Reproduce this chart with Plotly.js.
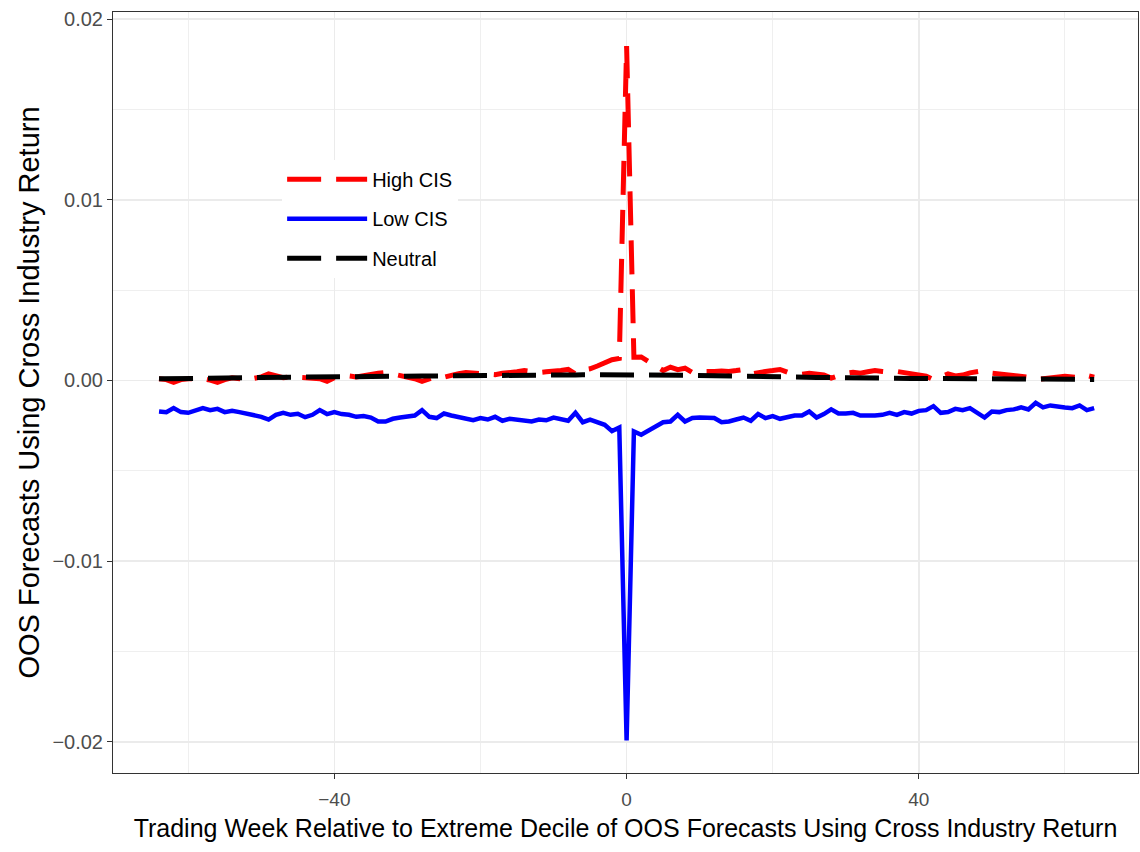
<!DOCTYPE html>
<html>
<head>
<meta charset="utf-8">
<script src="https://cdn.plot.ly/plotly-3.0.1.min.js"></script>
<style>
html,body{margin:0;padding:0;background:#fff;}
#chart{width:1140px;height:852px;}
</style>
</head>
<body>
<div id="chart"></div>
<script>
// Trading weeks relative to the event
const weeks = [-64,-63,-62,-61,-60,-59,-58,-57,-56,-55,-54,-53,-52,-51,-50,-49,-48,-47,-46,-45,-44,-43,-42,-41,-40,-39,-38,-37,-36,-35,-34,-33,-32,-31,-30,-29,-28,-27,-26,-25,-24,-23,-22,-21,-20,-19,-18,-17,-16,-15,-14,-13,-12,-11,-10,-9,-8,-7,-6,-5,-4,-3,-2,-1,0,1,2,3,4,5,6,7,8,9,10,11,12,13,14,15,16,17,18,19,20,21,22,23,24,25,26,27,28,29,30,31,32,33,34,35,36,37,38,39,40,41,42,43,44,45,46,47,48,49,50,51,52,53,54,55,56,57,58,59,60,61,62,63,64];

const highCIS = [0.0001,0.00005,-0.0001,0.00005,0.0001,0.00012,0.0001,0.00002,-0.0001,0.00005,0.00015,0.0001,0.00018,0.00012,0.0002,0.00036,0.00022,0.00015,0.0002,0.00018,0.00012,0.00014,0.0001,-0.00005,0.00015,0.00018,0.00025,0.0002,0.00028,0.00032,0.0004,0.00044,0.00035,0.00028,0.00022,0.0001,-0.00005,0.0001,0.00022,0.00018,0.0003,0.00038,0.00044,0.0004,0.00036,0.0003,0.00032,0.0004,0.00042,0.00048,0.00055,0.0005,0.00044,0.00048,0.0005,0.00055,0.00061,0.00036,0.00058,0.00065,0.0008,0.00095,0.00115,0.00122,0.0185,0.00129,0.0013,0.00105,0.0008,0.00055,0.00074,0.0006,0.00068,0.00044,0.0005,0.00048,0.0005,0.00052,0.0005,0.00055,0.00061,0.00036,0.00045,0.0005,0.00055,0.00061,0.00046,0.0004,0.00035,0.0004,0.00038,0.0003,0.00013,0.0003,0.0004,0.00046,0.0004,0.00048,0.00055,0.0005,0.00046,0.0005,0.00045,0.0004,0.0003,0.00024,0.00005,0.0002,0.00036,0.00025,0.0003,0.00042,0.0005,0.00055,0.0004,0.00035,0.0003,0.00028,0.00022,0.00018,0.00005,0.0001,0.00015,0.0002,0.00024,0.0002,0.00013,0.00028,0.00018];

const lowCIS = [-0.00172,-0.00176,-0.00153,-0.00175,-0.00179,-0.00166,-0.00153,-0.00164,-0.00157,-0.00175,-0.00168,-0.00175,-0.00183,-0.00194,-0.00201,-0.00216,-0.0019,-0.00179,-0.0019,-0.00184,-0.00203,-0.0019,-0.00164,-0.00186,-0.00175,-0.00186,-0.0019,-0.00201,-0.00197,-0.00205,-0.00227,-0.00227,-0.00212,-0.00205,-0.00197,-0.00194,-0.00164,-0.00201,-0.00208,-0.00183,-0.00194,-0.00201,-0.00212,-0.0022,-0.00208,-0.00216,-0.00201,-0.00223,-0.00212,-0.00216,-0.0022,-0.00227,-0.00216,-0.0022,-0.00205,-0.00216,-0.00223,-0.00179,-0.00231,-0.00216,-0.00231,-0.00245,-0.0028,-0.0026,-0.01992,-0.00282,-0.003,-0.00277,-0.00253,-0.00231,-0.00227,-0.0019,-0.00227,-0.00208,-0.00205,-0.00205,-0.00208,-0.00231,-0.00227,-0.00216,-0.00205,-0.00223,-0.00186,-0.00208,-0.00197,-0.00212,-0.00205,-0.00194,-0.00194,-0.00172,-0.00205,-0.00186,-0.0016,-0.00183,-0.00183,-0.00179,-0.00194,-0.00197,-0.00194,-0.0019,-0.00179,-0.0019,-0.00175,-0.00183,-0.00168,-0.00164,-0.00142,-0.00179,-0.00175,-0.00157,-0.00164,-0.00153,-0.00179,-0.00205,-0.00172,-0.00175,-0.00164,-0.0016,-0.00149,-0.0016,-0.00124,-0.00149,-0.00138,-0.00146,-0.00149,-0.00153,-0.00138,-0.00164,-0.00153];

const neutral = [0.00009,0.0001,0.0001,0.00011,0.00011,0.00012,0.00012,0.00013,0.00013,0.00014,0.00014,0.00015,0.00015,0.00016,0.00016,0.00017,0.00017,0.00018,0.00018,0.00019,0.00019,0.0002,0.0002,0.0002,0.00021,0.00021,0.00021,0.00022,0.00022,0.00022,0.00023,0.00023,0.00023,0.00024,0.00024,0.00024,0.00025,0.00025,0.00025,0.00026,0.00026,0.00026,0.00027,0.00027,0.00027,0.00028,0.00028,0.00028,0.00029,0.00029,0.00029,0.0003,0.0003,0.0003,0.0003,0.00031,0.00031,0.00031,0.00032,0.00032,0.00032,0.00033,0.00033,0.00034,0.00035,0.00034,0.00033,0.00032,0.00031,0.00031,0.0003,0.00029,0.00029,0.00028,0.00027,0.00027,0.00026,0.00025,0.00025,0.00024,0.00023,0.00023,0.00022,0.00021,0.00021,0.0002,0.0002,0.00019,0.00018,0.00018,0.00017,0.00017,0.00016,0.00016,0.00015,0.00015,0.00014,0.00014,0.00013,0.00013,0.00013,0.00012,0.00012,0.00011,0.00011,0.00011,0.0001,0.0001,0.0001,0.00009,0.00009,0.00009,0.00008,0.00008,0.00008,0.00008,0.00007,0.00007,0.00007,0.00007,0.00006,0.00006,0.00006,0.00006,0.00006,0.00006,0.00006,0.00006,0.00006];

const seriesNames = ['High CIS','Low CIS','Neutral'];
const xTickVals = [-40, 0, 40];
const yTickVals = [-0.02, -0.01, 0, 0.01, 0.02];

const FONT = '"Liberation Sans", Arial, sans-serif';

const traces = [
  {x: weeks, y: highCIS, name: seriesNames[0], type: 'scatter', mode: 'lines',
   line: {color: '#FF0000', width: 5, dash: '34px,15px'}, legendgroup: 'a'},
  {x: weeks, y: lowCIS, name: seriesNames[1], type: 'scatter', mode: 'lines',
   line: {color: '#0000FF', width: 4.5}, legendgroup: 'b'},
  {x: weeks, y: neutral, name: seriesNames[2], type: 'scatter', mode: 'lines',
   line: {color: '#000000', width: 5, dash: '34px,15px'}, legendgroup: 'c'}
];

const layout = {
  width: 1140, height: 852,
  paper_bgcolor: '#fff', plot_bgcolor: '#fff',
  margin: {l: 113, r: 2, t: 12, b: 79},
  font: {family: FONT, color: '#000'},
  showlegend: true,
  legend: {
    x: 0.165, y: 0.806, xanchor: 'left', yanchor: 'top',
    bgcolor: '#fff', borderwidth: 0,
    font: {family: FONT, size: 20, color: '#000'},
    itemwidth: 80, tracegroupgap: 10.5, traceorder: 'grouped'
  },
  xaxis: {
    range: [-70.3, 70.0],
    tickvals: xTickVals,
    ticks: 'outside', ticklen: 5, tickcolor: '#333', tickwidth: 1,
    tickfont: {family: FONT, size: 19, color: '#4d4d4d'},
    ticklabelstandoff: 4,
    showgrid: true, gridcolor: '#ebebeb', gridwidth: 1.5,
    minor: {dtick: 20, tick0: 0, showgrid: true, gridcolor: '#ebebeb', gridwidth: 0.8},
    zeroline: false,
    showline: true, mirror: true, linecolor: '#333', linewidth: 1,
    title: {text: 'Trading Week Relative to Extreme Decile of OOS Forecasts Using Cross Industry Return',
            font: {family: FONT, size: 25, color: '#000'}, standoff: 10}
  },
  yaxis: {
    range: [-0.02172, 0.02039],
    tickvals: yTickVals,
    tickformat: '.2f',
    ticks: 'outside', ticklen: 5, tickcolor: '#333', tickwidth: 1,
    tickfont: {family: FONT, size: 20, color: '#4d4d4d'},
    showgrid: true, gridcolor: '#ebebeb', gridwidth: 1.5,
    minor: {dtick: 0.005, tick0: 0, showgrid: true, gridcolor: '#ebebeb', gridwidth: 0.8},
    zeroline: false,
    showline: true, mirror: true, linecolor: '#333', linewidth: 1,
    title: {text: 'OOS Forecasts Using Cross Industry Return',
            font: {family: FONT, size: 29, color: '#000'}, standoff: 4}
  }
};

Plotly.newPlot('chart', traces, layout, {staticPlot: true, displayModeBar: false});
</script>
</body>
</html>
